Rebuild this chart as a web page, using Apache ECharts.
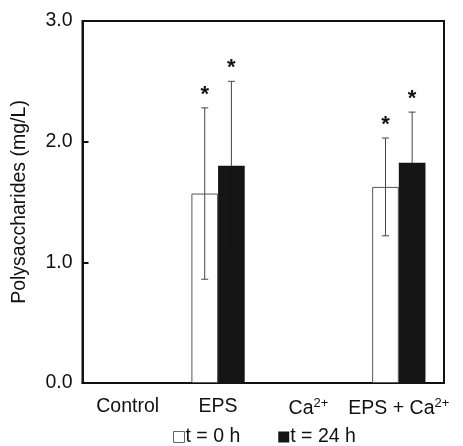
<!DOCTYPE html>
<html>
<head>
<meta charset="utf-8">
<script src="https://cdn.jsdelivr.net/npm/echarts@6/dist/echarts.min.js"></script>
<style>
  html, body { margin: 0; padding: 0; background: #fff; }
  #chart { width: 463px; height: 446px; }
</style>
</head>
<body>
<div id="chart"></div>
<script>
// data
var categories = ['Control', 'EPS', 'Ca2+', 'EPS + Ca2+'];
var seriesNames = ['t = 0 h', 't = 24 h'];
var t0 = [0, 1.57, 0, 1.625];
var t0Err = [null, 0.71, null, 0.405];
var t24 = [0, 1.80, 0, 1.825];
var t24Err = [null, 0.70, null, 0.42];
var t0Sig = [false, true, false, true];
var t24Sig = [false, true, false, true];
var yTicks = [0, 1, 2, 3];

var FONT = '"Liberation Sans", Arial, sans-serif';
var FS = 19.5;
var BLACK = '#151515';

function errData(vals, errs, sig) {
  var out = [];
  for (var i = 0; i < vals.length; i++) {
    if (errs[i] == null) continue;
    out.push([i, vals[i], errs[i], sig[i] ? 1 : 0]);
  }
  return out;
}

function barData(vals) {
  // empty bars (0) draw no outline over the axis
  return vals.map(function (v) {
    return v === 0 ? { value: v, itemStyle: { borderWidth: 0, color: 'transparent' } } : v;
  });
}

// side = -1 for left bar, +1 for right bar
function errRender(side, lowColor) {
  return function (params, api) {
    var idx = api.value(0), v = api.value(1), e = api.value(2), s = api.value(3);
    var band = api.size([1, 0])[0];
    var off = side * band * 0.1475;
    var top = api.coord([idx, v + e]);
    var mid = api.coord([idx, v]);
    var bot = api.coord([idx, v - e]);
    var x = top[0] + off;
    var cap = 3.5;
    var st = { stroke: '#444', lineWidth: 1 };
    var stLow = { stroke: lowColor, lineWidth: 1 };
    var kids = [
      { type: 'line', shape: { x1: x, y1: top[1], x2: x, y2: mid[1] }, style: st },
      { type: 'line', shape: { x1: x, y1: mid[1], x2: x, y2: bot[1] }, style: stLow },
      { type: 'line', shape: { x1: x - cap, y1: top[1], x2: x + cap, y2: top[1] }, style: st },
      { type: 'line', shape: { x1: x - cap, y1: bot[1], x2: x + cap, y2: bot[1] }, style: stLow }
    ];
    if (s) {
      kids.push({
        type: 'text',
        style: { text: '*', x: x, y: top[1] - 2, textAlign: 'center', textVerticalAlign: 'bottom',
                 font: 'bold 22px ' + FONT, fill: '#111' }
      });
    }
    return { type: 'group', children: kids };
  };
}

var myChart = echarts.init(document.getElementById('chart'));
var option = {
  animation: false,
  textStyle: { fontFamily: FONT },
  legend: {
    top: 427,
    left: 173,
    padding: 0,
    itemWidth: 11,
    itemHeight: 11,
    itemGap: 38,
    textStyle: { fontSize: FS, color: '#111', padding: [0, 0, 0, -4] },
    data: [
      { name: seriesNames[0], icon: 'rect', itemStyle: { color: '#fff', borderColor: '#666', borderWidth: 1 } },
      { name: seriesNames[1], icon: 'rect', itemStyle: { color: BLACK } }
    ]
  },
  grid: {
    left: 82.5,
    right: 19,
    top: 21,
    bottom: 63,
    show: true,
    borderColor: '#111',
    borderWidth: 2
  },
  xAxis: {
    type: 'category',
    data: categories,
    axisLine: { show: true, lineStyle: { color: '#111', width: 2 } },
    axisTick: { show: false },
    axisLabel: {
      interval: 0,
      hideOverlap: false,
      margin: 14,
      fontSize: FS,
      color: '#111',
      formatter: function (v) { return v.replace('2+', '{sup|2+}'); },
      rich: { sup: { fontSize: 13, verticalAlign: 'top', padding: [0, 0, 10, 0], color: '#111' } }
    }
  },
  yAxis: {
    type: 'value',
    min: yTicks[0],
    max: yTicks[yTicks.length - 1],
    interval: 1,
    name: 'Polysaccharides (mg/L)',
    nameLocation: 'middle',
    nameGap: 53,
    nameTextStyle: { fontSize: FS, color: '#111' },
    splitLine: { show: false },
    axisLine: { show: true, lineStyle: { color: '#111', width: 2 } },
    axisTick: { show: true, inside: true, length: 6, lineStyle: { color: '#111', width: 2 } },
    axisLabel: {
      margin: 10,
      fontSize: FS,
      color: '#111',
      formatter: function (v) { return v.toFixed(1); }
    }
  },
  series: [
    {
      name: seriesNames[0],
      type: 'bar',
      data: barData(t0),
      barWidth: '29.5%',
      barGap: '0%',
      itemStyle: { color: '#fff', borderColor: '#555', borderWidth: 1 }
    },
    {
      name: seriesNames[1],
      type: 'bar',
      data: barData(t24),
      barWidth: '29.5%',
      barGap: '0%',
      itemStyle: { color: BLACK }
    },
    {
      type: 'custom',
      renderItem: errRender(-1, '#444'),
      data: errData(t0, t0Err, t0Sig),
      z: 10,
      silent: true
    },
    {
      type: 'custom',
      renderItem: errRender(1, BLACK),
      data: errData(t24, t24Err, t24Sig),
      z: 10,
      silent: true
    }
  ]
};
myChart.setOption(option);
</script>
</body>
</html>
